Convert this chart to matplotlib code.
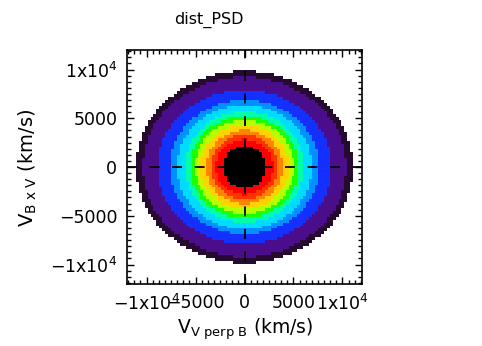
import numpy as np
import matplotlib
matplotlib.use('Agg')
import matplotlib.pyplot as plt
from matplotlib.colors import ListedColormap, BoundaryNorm
from matplotlib.ticker import MultipleLocator, FixedLocator, FixedFormatter

plt.rcParams['font.family'] = ['DejaVu Sans']
plt.rcParams['mathtext.default'] = 'regular'

# PSD contour bands: outer edge of each band along V_perp (a) and V_BxV (b), km/s
band_a = [11100, 10400, 8850, 7600, 6900, 6100, 5550, 5050, 4500, 3900, 3400, 2900, 2170]
band_b = [9800, 9200, 7900, 6900, 6350, 5650, 5200, 4800, 4350, 3800, 3350, 2870, 2170]
band_colors = ['#260a30', '#4a0e8c', '#1430ff', '#0090ff', '#00dcff', '#00ffa8',
               '#1cff00', '#b4ff00', '#ffd200', '#ff8200', '#ff3200', '#ff0000', '#000000']

x_ticks = [-10000, -5000, 0, 5000, 10000]
tick_labels = ['\u22121x10$^4$', '\u22125000', '0', '5000', '1x10$^4$']
vmax = 12000
cell = 300

# binned velocity grid
edges = np.arange(-vmax, vmax + cell, cell)
centers = 0.5 * (edges[:-1] + edges[1:])
vx, vy = np.meshgrid(centers, centers)
theta = np.arctan2(vy, vx)
r = np.hypot(vx, vy)

level = np.zeros_like(r, dtype=int)
for k, (a, b) in enumerate(zip(band_a, band_b)):
    bound = 1.0 / np.sqrt((np.cos(theta) / a) ** 2 + (np.sin(theta) / b) ** 2)
    level[r <= bound] = k + 1

cmap = ListedColormap(['white'] + band_colors)
norm = BoundaryNorm(np.arange(-0.5, len(band_colors) + 1.5), cmap.N)

fig = plt.figure(figsize=(4.82, 3.46), dpi=100)
ax = fig.add_axes([127 / 482, 1 - 284 / 346, 235 / 482, 234 / 346])
ax.pcolormesh(edges, edges, level, cmap=cmap, norm=norm, shading='flat')

ax.axhline(0, color='black', lw=1.3, ls=(0, (5.5, 7.0)))
ax.axvline(0, color='black', lw=1.3, ls=(0, (5.5, 7.0)))

ax.set_xlim(-vmax, vmax)
ax.set_ylim(-vmax, vmax)
for axis in (ax.xaxis, ax.yaxis):
    axis.set_major_locator(FixedLocator(x_ticks))
    axis.set_major_formatter(FixedFormatter(tick_labels))
    axis.set_minor_locator(MultipleLocator(625))
ax.tick_params(which='both', direction='in', top=True, right=True, labelsize=12.5, pad=7)
ax.tick_params(which='major', length=5, width=1)
ax.tick_params(which='minor', length=3, width=1)
for s in ax.spines.values():
    s.set_linewidth(1.2)

fig.text(245 / 482, 1 - 329 / 346, 'V$_{V\\ perp\\ B}$ (km/s)', ha='center', va='center', fontsize=13.5)
fig.text(28 / 482, 1 - 168 / 346, 'V$_{B\\ x\\ V}$ (km/s)', ha='center', va='center',
         rotation=90, fontsize=14)
fig.text(209 / 482, 1 - 20 / 346, 'dist_PSD', ha='center', va='center', fontsize=11.5)

fig.savefig('out.png', dpi=100)
